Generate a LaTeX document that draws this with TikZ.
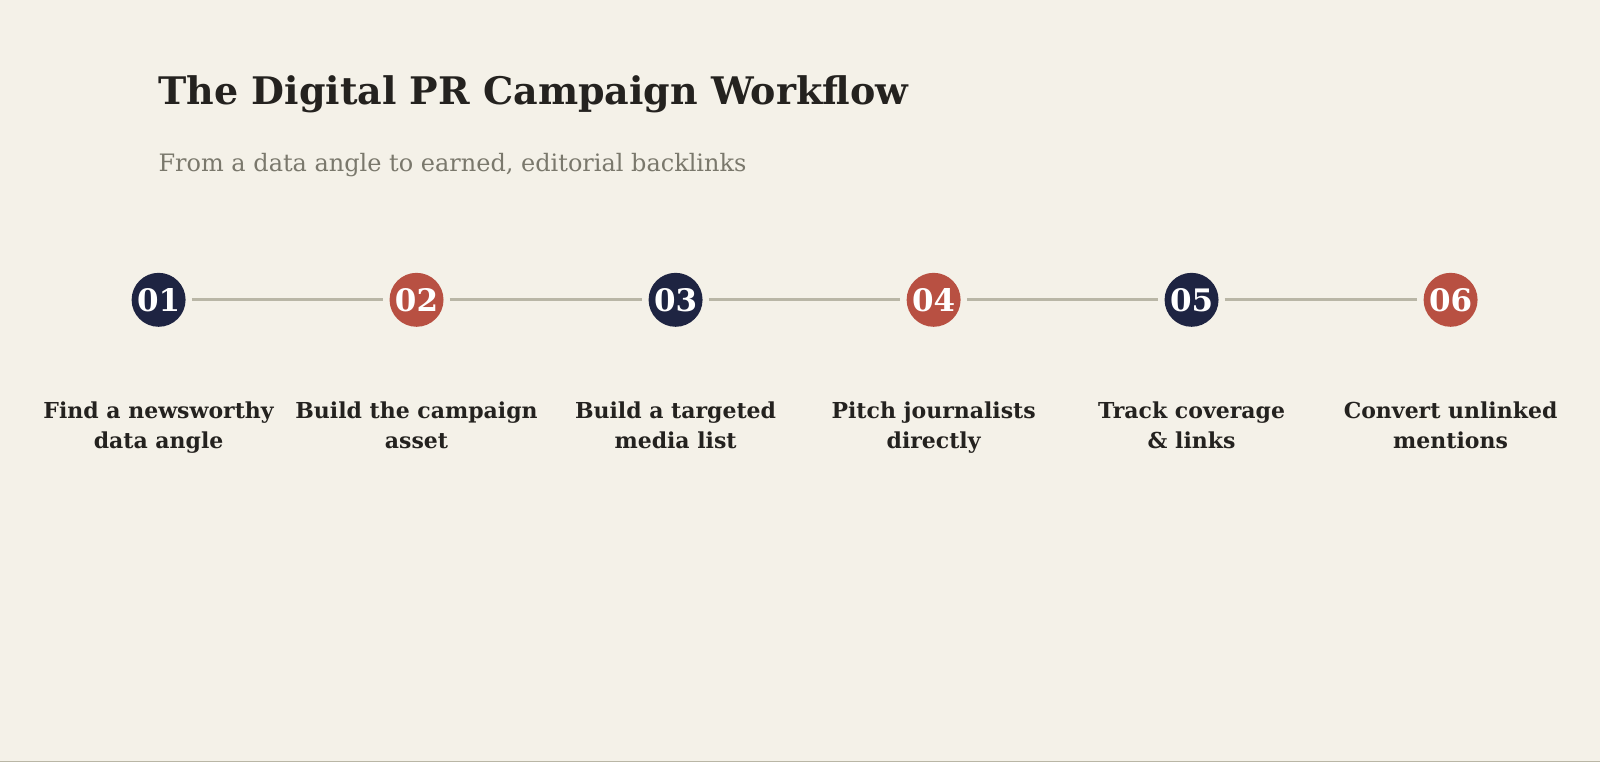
\documentclass[tikz,border=0pt]{standalone}
\usepackage{fontspec}
\setmainfont{DejaVu Serif}
\usetikzlibrary{positioning}
\definecolor{bgcream}{HTML}{F4F1E8}
\definecolor{navy}{HTML}{1E2442}
\definecolor{brick}{HTML}{B85042}
\definecolor{linegray}{HTML}{B9B6A6}
\definecolor{ink}{HTML}{24221F}
\definecolor{subgray}{HTML}{7A786C}
\begin{document}
\begin{tikzpicture}[x=1pt,y=-1pt,
  dot/.style={circle,inner sep=0pt,minimum size=54pt,text=white,font=\bfseries\fontsize{31}{31}\selectfont},
  lab/.style={align=center,text=ink,inner sep=0pt,anchor=north,font=\bfseries\fontsize{22}{30}\selectfont}]
\fill[bgcream] (0,0) rectangle (1600,762);
\draw[linegray, line width=1pt] (0,761.5)--(1600,761.5);

\node[anchor=base west,inner sep=0pt,text=ink,font=\bfseries\fontsize{38}{38}\selectfont] (title) at (158,105) {The Digital PR Campaign Workflow};
\node[anchor=base west,inner sep=0pt,text=subgray,font=\fontsize{24}{24}\selectfont] (sub) at (158,172) {From a data angle to earned, editorial backlinks};

\node (A) at (158.2,300) [dot,fill=navy]{01};
\node (B) at (416.3,300) [dot,fill=brick]{02};
\node (C) at (675.5,300) [dot,fill=navy]{03};
\node (D) at (933.7,300) [dot,fill=brick]{04};
\node (E) at (1191.8,300) [dot,fill=navy]{05};
\node (F) at (1451,300) [dot,fill=brick]{06};

\draw[linegray,line width=3pt,shorten <=6pt,shorten >=6pt] (A)--(B);
\draw[linegray,line width=3pt,shorten <=6pt,shorten >=6pt] (B)--(C);
\draw[linegray,line width=3pt,shorten <=6pt,shorten >=6pt] (C)--(D);
\draw[linegray,line width=3pt,shorten <=6pt,shorten >=6pt] (D)--(E);
\draw[linegray,line width=3pt,shorten <=6pt,shorten >=6pt] (E)--(F);

\node (LA) at (158.2,402) [lab]{Find a newsworthy\\data angle};
\node (LB) at (416.3,402) [lab]{Build the campaign\\asset};
\node (LC) at (675.5,402) [lab]{Build a targeted\\media list};
\node (LD) at (933.7,402) [lab]{Pitch journalists\\directly};
\node (LE) at (1191.8,402) [lab]{Track coverage\\\& links};
\node (LF) at (1451,402) [lab]{Convert unlinked\\mentions};
\end{tikzpicture}
\end{document}
